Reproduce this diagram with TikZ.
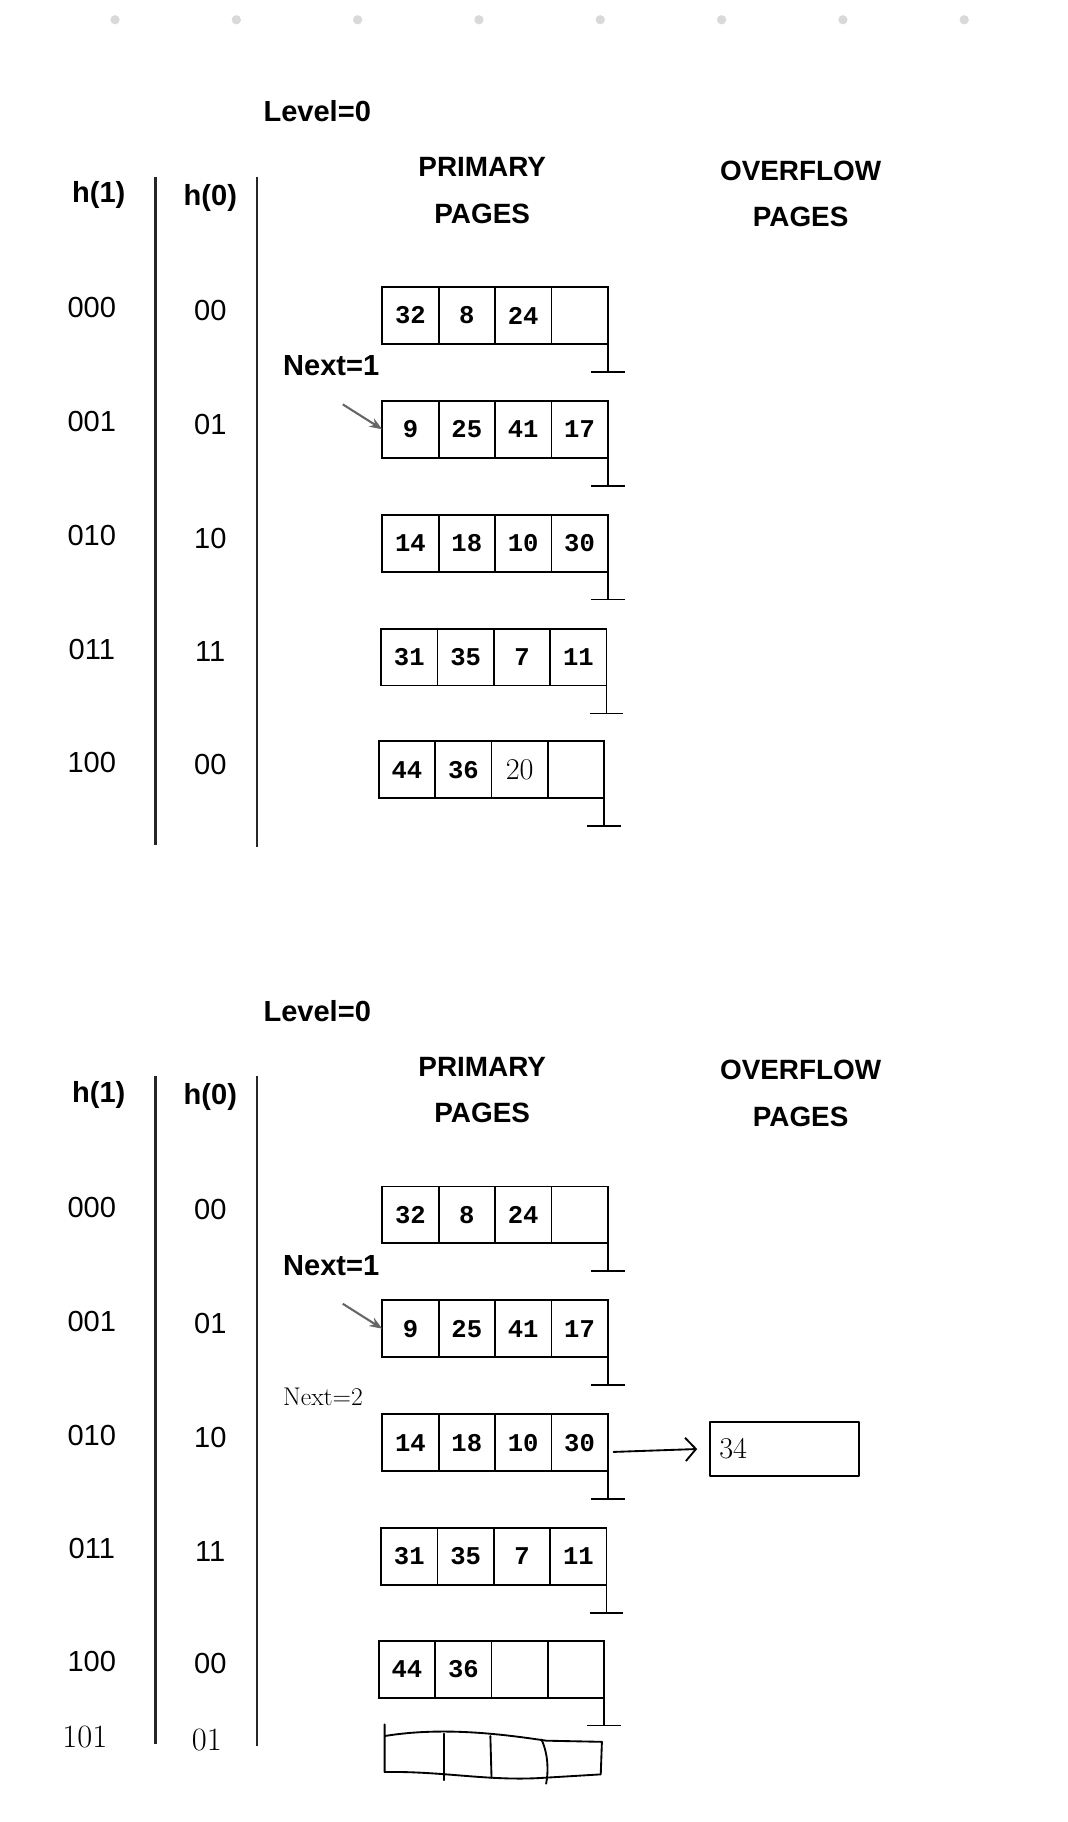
\documentclass[tikz,border=0pt]{standalone}
\usepackage{fontspec}
\newfontfamily\labelfont{Liberation Sans}
\newfontfamily\cellfont{Liberation Mono}
\usetikzlibrary{arrows.meta, positioning, calc}

\begin{document}
\begin{tikzpicture}[x=1pt, y=-1pt, >=Stealth,
    head/.style={font=\labelfont\bfseries\fontsize{25}{30}\selectfont},
    title/.style={font=\labelfont\bfseries\fontsize{24}{40}\selectfont, align=center},
    code/.style={font=\labelfont\fontsize{25}{30}\selectfont},
    cell/.style={draw, line width=1.5pt, minimum width=48.5pt, minimum height=49pt,
        inner sep=0pt, outer sep=0pt, anchor=north west,
        font=\cellfont\bfseries\fontsize{22}{26}\selectfont},
    hand/.style={font=\fontsize{26}{30}\selectfont},
    rule/.style={line width=2.2pt, black!85},
    ground/.style={line width=1.5pt},
    sketch/.style={line width=1.6pt, line cap=round, line join=round}]

    % page frame
    \useasboundingbox (0,0) rectangle (919,1568);

    % dots along the top
    \foreach \i in {0,...,7}
        \fill[black!15] (99+104.4*\i,17) circle (4pt);

    % the two states of the file (before and after the split)
    \foreach \s/\off in {a/0, b/774} {
    \begin{scope}[yshift=-\off pt]
        \node[head] (\s-lev) at (273,96) {Level=0};
        \node[head] (\s-h1) at (85,168) {h(1)};
        \node[head] (\s-h0) at (181,170) {h(0)};
        \node[title] (\s-prim) at (415,164) {PRIMARY\\PAGES};
        \node[title] (\s-over) at (689,167) {OVERFLOW\\PAGES};
        \node[head] (\s-next) at (285,315) {Next=1};

        \draw[rule] (134,152) -- (134,727);
        \draw[rule] (221,152) -- (221,729);

        % buckets
        \foreach \r/\x/\y/\hone/\hzero/\a/\b/\c/\d in {
            1/329/247/000/00/32/8/24/{},
            2/329/345/001/01/9/25/41/17,
            3/329/443/010/10/14/18/10/30,
            4/328/541/011/11/31/35/7/11,
            5/326/638/100/00/44/36/{}/{}} {
            \node[code] (\s-l\r) at (79,\y+18) {\hone};
            \node[code] (\s-m\r) at (181,\y+20) {\hzero};
            \node[cell] (\s\r-1) at (\x,\y) {\a};
            \node[cell] (\s\r-2) at (\x+48.5,\y) {\b};
            \node[cell] (\s\r-3) at (\x+97,\y) {\c};
            \node[cell] (\s\r-4) at (\x+145.5,\y) {\d};
            \draw[ground] (\s\r-4.south east) -- ++(0,24) coordinate (\s-g\r);
            \draw[ground] ([xshift=-14.5pt]\s-g\r) -- ([xshift=14.5pt]\s-g\r);
        }

        \coordinate (\s-tail) at (295,348);
        \draw[->, line width=1.8pt, black!60] (\s-tail) -- (\s2-1.west);
    \end{scope}
    }

    % handwritten additions
    \node[hand] (twenty) at (a5-3) {20};
    \node[hand, font=\fontsize{22}{26}\selectfont] (next2) at (278,1202) {Next=2};
    \node[hand, draw, sketch, minimum width=128pt, minimum height=47pt,
        outer sep=0pt, anchor=west, text width=112pt, align=left, inner xsep=8pt] (ovfl) at (611,1247) {34};
    \draw[sketch, -{Straight Barb[length=9pt, width=20pt]}]
        ([xshift=5pt, yshift=-8pt]b3-4.east) -- ([xshift=-11pt]ovfl.west);

    \node[hand, font=\fontsize{28}{32}\selectfont] (b-l6) at (73,1495) {101};
    \node[hand, font=\fontsize{28}{32}\selectfont] (b-m6) at (178,1497) {01};

    % sketched new bucket
    \draw[sketch] (331,1484) -- (331,1525) .. controls (380,1524) and (420,1533) .. (467,1530)
        -- (517,1527) -- (518,1499) -- (470,1498) .. controls (430,1492) and (380,1486) .. (331,1494);
    \draw[sketch] (382,1492) -- (382,1532);
    \draw[sketch] (422,1494) -- (423,1530);
    \draw[sketch] (466,1497) .. controls (472,1510) and (472,1525) .. (470,1535);
\end{tikzpicture}
\end{document}
